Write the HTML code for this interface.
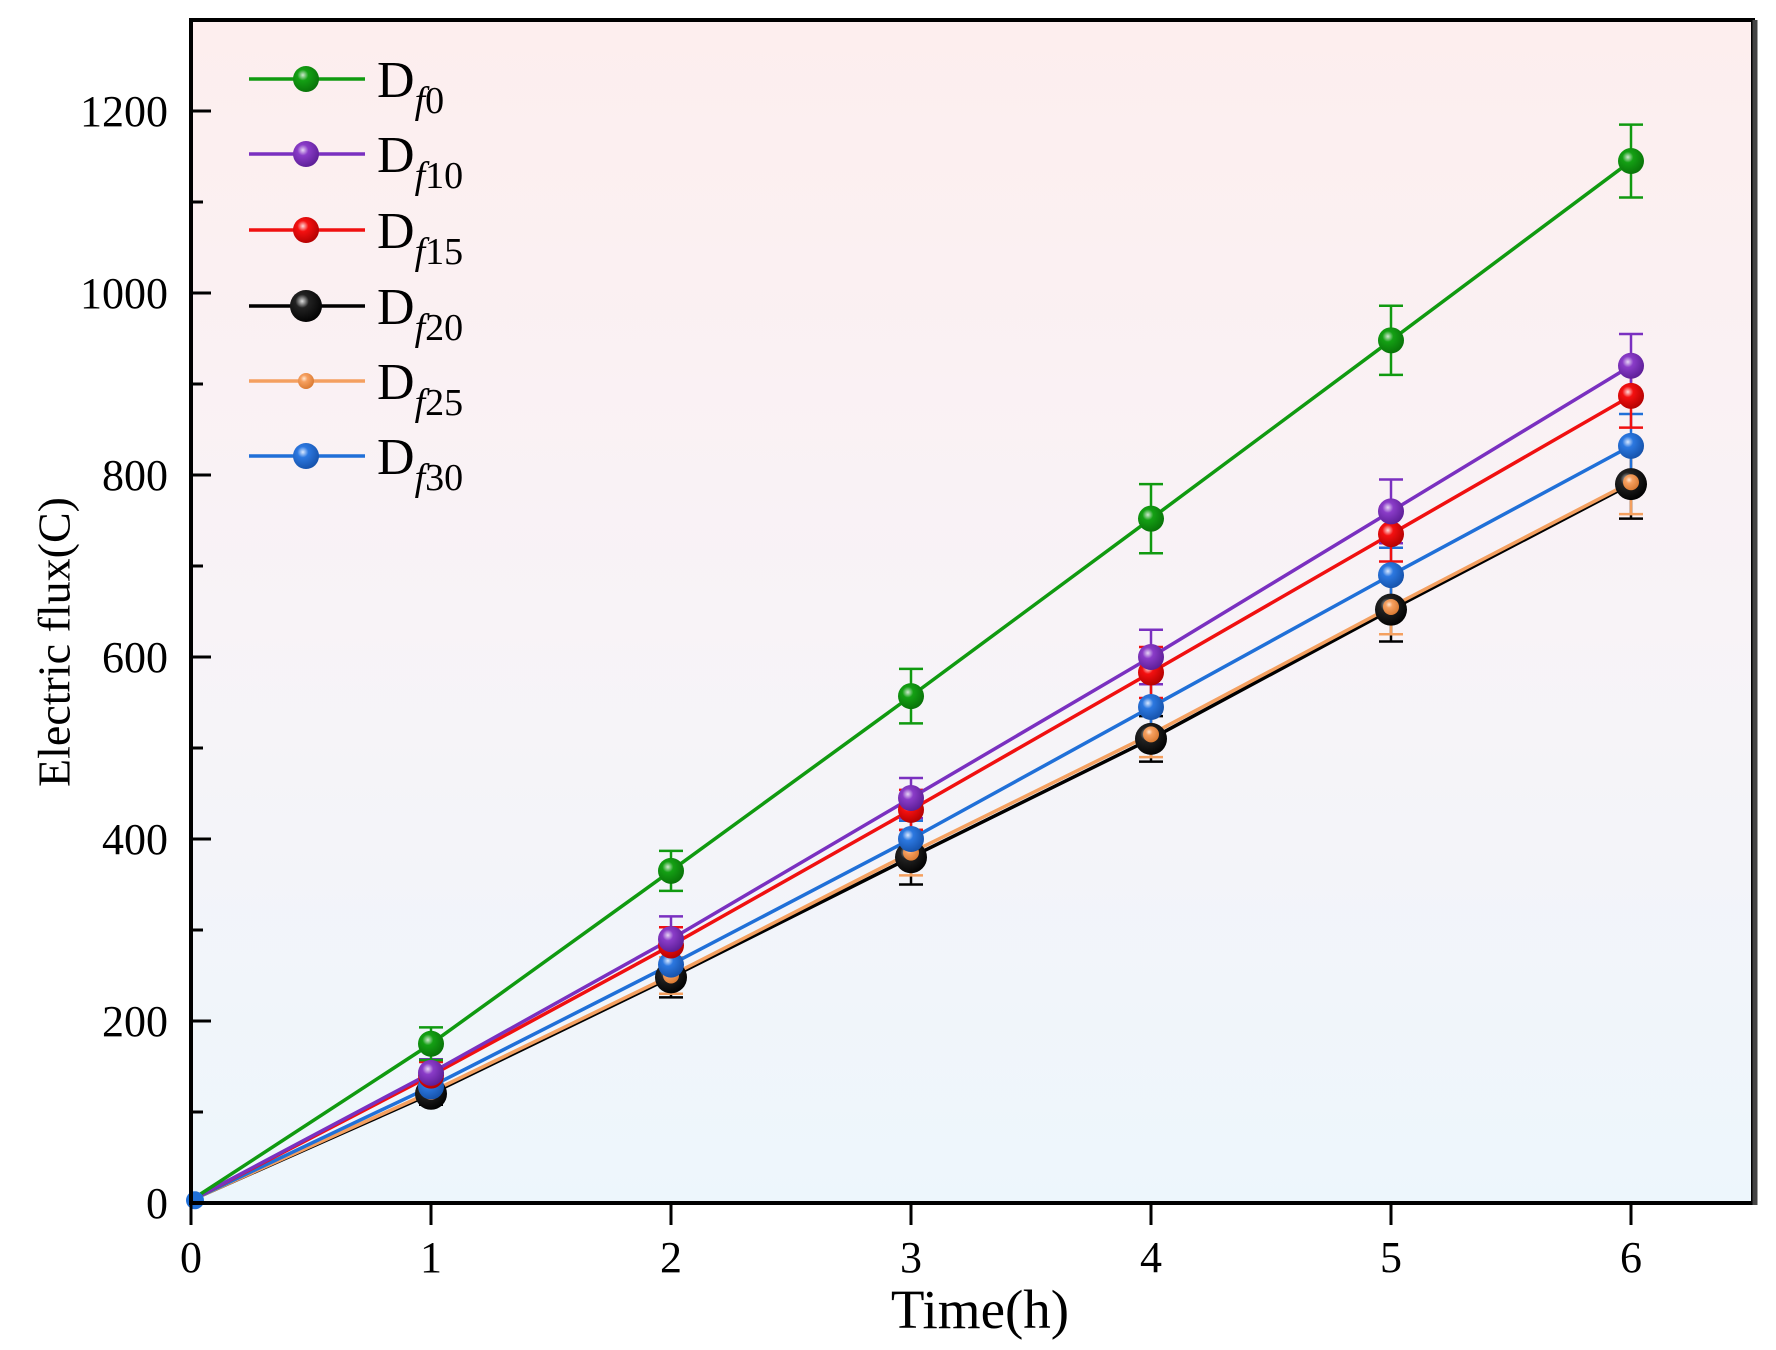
<!DOCTYPE html>
<html><head><meta charset="utf-8"><style>
html,body{margin:0;padding:0;background:#fff;}
svg{display:block;font-family:"Liberation Serif",serif;}
</style></head><body>
<svg id="s" width="1776" height="1350" viewBox="0 0 1776 1350" xmlns="http://www.w3.org/2000/svg">
<defs>
<linearGradient id="bg" x1="0" y1="0" x2="0" y2="1">
<stop offset="0" stop-color="#fdeeee"/><stop offset="0.5" stop-color="#f8f3f7"/><stop offset="1" stop-color="#edf6fc"/>
</linearGradient>
<radialGradient id="g0" cx="0.38" cy="0.35" r="0.7"><stop offset="0" stop-color="#cfe8cf"/><stop offset="0.3" stop-color="#14a014"/><stop offset="1" stop-color="#087008"/></radialGradient>
<radialGradient id="g1" cx="0.38" cy="0.35" r="0.7"><stop offset="0" stop-color="#e6d4f4"/><stop offset="0.3" stop-color="#8a3cc8"/><stop offset="1" stop-color="#5a1c94"/></radialGradient>
<radialGradient id="g2" cx="0.38" cy="0.35" r="0.7"><stop offset="0" stop-color="#ffd8d8"/><stop offset="0.3" stop-color="#f41010"/><stop offset="1" stop-color="#b00000"/></radialGradient>
<radialGradient id="g3" cx="0.38" cy="0.35" r="0.7"><stop offset="0" stop-color="#dddddd"/><stop offset="0.3" stop-color="#222"/><stop offset="1" stop-color="#000"/></radialGradient>
<radialGradient id="g4" cx="0.38" cy="0.35" r="0.7"><stop offset="0" stop-color="#ffe8d4"/><stop offset="0.3" stop-color="#f6a060"/><stop offset="1" stop-color="#d87830"/></radialGradient>
<radialGradient id="g5" cx="0.38" cy="0.35" r="0.7"><stop offset="0" stop-color="#d8e8ff"/><stop offset="0.3" stop-color="#2c78e0"/><stop offset="1" stop-color="#1450a8"/></radialGradient>
</defs>
<rect x="191" y="20" width="1562" height="1183" fill="url(#bg)"/>
<g id="data"></g>
<rect x="191" y="20" width="1562" height="1183" fill="none" stroke="#000" stroke-width="4"/>
<line x1="1755" y1="20" x2="1755" y2="1205" stroke="#444" stroke-width="5"/>
<g id="ax" font-size="44" fill="#000"></g>
<text x="54" y="642" font-size="46" text-anchor="middle" dominant-baseline="central" transform="rotate(-90 54 642)">Electric flux(C)</text>
<text x="980" y="1328" font-size="55" text-anchor="middle">Time(h)</text>
<g id="leg"></g>
</svg>
<script>
const NS="http://www.w3.org/2000/svg";
function el(p,t,a,txt){const e=document.createElementNS(NS,t);for(const k in a)e.setAttribute(k,a[k]);if(txt!==undefined)e.textContent=txt;p.appendChild(e);return e;}
const X=v=>191+240*v, Y=v=>1203-0.91*v;
const ax=document.getElementById('ax');
for(let v=0;v<=1200;v+=100){const y=Y(v);el(ax,'line',{x1:191,y1:y,x2:v%200==0?211:203,y2:y,stroke:'#000','stroke-width':3});
 if(v%200==0)el(ax,'text',{x:168,y:y+15,'text-anchor':'end'},String(v));}
for(let v=0;v<=6;v++){const x=X(v);el(ax,'line',{x1:x,y1:1203,x2:x,y2:1225,stroke:'#000','stroke-width':3});
 el(ax,'text',{x:x,y:1272,'text-anchor':'middle'},String(v));}
const S=[
 {c:'#109a10',r:13,d:[175,365,557,752,948,1145],e:[18,22,30,38,38,40],n:'0'},
 {c:'#7a30c0',r:13,d:[143,290,445,600,760,920],e:[15,25,22,30,35,35],n:'10'},
 {c:'#f01010',r:13,d:[140,283,432,583,735,887],e:[15,20,22,28,30,35],n:'15'},
 {c:'#000',r:16,d:[120,248,380,510,652,790],e:[12,22,30,25,35,38],n:'20'},
 {c:'#f4a060',r:8,d:[122,250,385,515,655,792],e:[10,20,25,25,30,35],n:'25'},
 {c:'#2070d8',r:13,d:[128,262,400,545,690,832],e:[12,20,20,25,30,35],n:'30'}];
const g=document.getElementById('data');
const order=[3,4,5,2,1,0];
order.forEach(i=>{const s=S[i];let pts=[[X(0),Y(3)]];s.d.forEach((v,k)=>pts.push([X(k+1),Y(v)]));
 el(g,'polyline',{points:pts.map(p=>p.join(',')).join(' '),fill:'none',stroke:s.c,'stroke-width':3.5});
 s.d.forEach((v,k)=>{const x=X(k+1),y1=Y(v+s.e[k]),y2=Y(v-s.e[k]);
  el(g,'line',{x1:x,y1:y1,x2:x,y2:y2,stroke:s.c,'stroke-width':2.5});
  el(g,'line',{x1:x-12,y1:y1,x2:x+12,y2:y1,stroke:s.c,'stroke-width':2.5});
  el(g,'line',{x1:x-12,y1:y2,x2:x+12,y2:y2,stroke:s.c,'stroke-width':2.5});});
});
el(g,'circle',{cx:X(0)+4,cy:Y(3),r:9,fill:'#2070d8'});
order.forEach(i=>{const s=S[i];s.d.forEach((v,k)=>el(g,'circle',{cx:X(k+1),cy:Y(v),r:s.r,fill:'url(#g'+i+')'}));});
const L=document.getElementById('leg');const ly=[79,154,230,306,381,456];
S.forEach((s,i)=>{const y=ly[i];el(L,'line',{x1:249,y1:y,x2:365,y2:y,stroke:s.c,'stroke-width':3.5});
 el(L,'circle',{cx:306,cy:y,r:s.r,fill:'url(#g'+i+')'});
 const t=el(L,'text',{x:377,y:y+18,'font-size':52});
 el(t,'tspan',{},'D');el(t,'tspan',{'font-style':'italic','font-size':38,dy:16},'f');el(t,'tspan',{'font-size':38},s.n);});
</script>
</body></html>
